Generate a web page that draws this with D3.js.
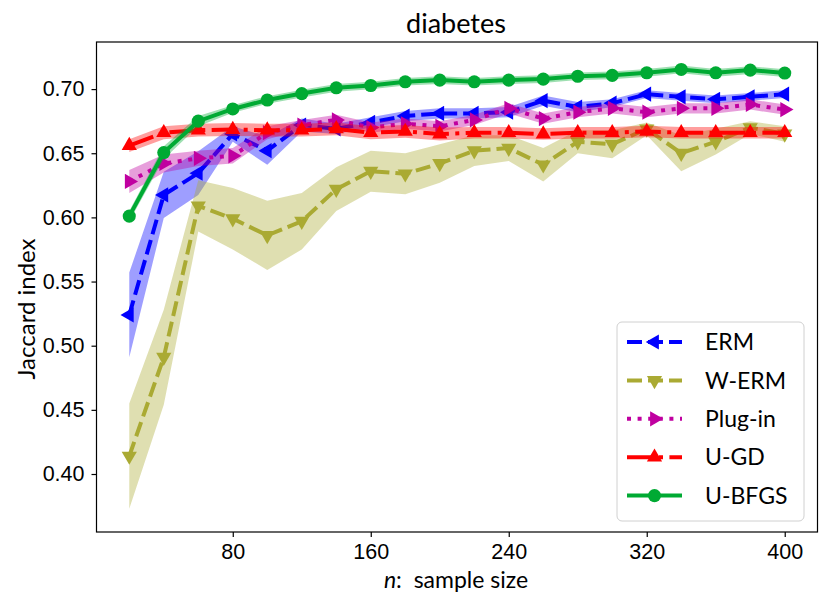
<!DOCTYPE html>
<html>
<head>
<meta charset="utf-8">
<script src="https://cdn.jsdelivr.net/npm/d3@7"></script>
<style>
  body { margin: 0; background: #fff; }
  svg { font-family: "Lato", "DejaVu Sans", sans-serif; }
</style>
</head>
<body>
<svg id="chart" width="831" height="607"></svg>
<script>
// Data
const sampleSizes = [20, 40, 60, 80, 100, 120, 140, 160, 180, 200, 220, 240, 260, 280, 300, 320, 340, 360, 380, 400];

const ermMean = [0.524, 0.6175, 0.6345, 0.665, 0.652, 0.672, 0.669, 0.674, 0.679, 0.681, 0.681, 0.682, 0.691, 0.686, 0.689, 0.696, 0.694, 0.692, 0.694, 0.696];
const ermStd  = [0.033, 0.018, 0.017, 0.006, 0.011, 0.005, 0.004, 0.004, 0.004, 0.004, 0.004, 0.004, 0.004, 0.004, 0.003, 0.003, 0.003, 0.003, 0.003, 0.003];

const wermMean = [0.414, 0.491, 0.609, 0.599, 0.586, 0.597, 0.622, 0.636, 0.634, 0.642, 0.652, 0.654, 0.641, 0.659, 0.657, 0.669, 0.650, 0.659, 0.670, 0.665];
const wermStd  = [0.041, 0.037, 0.020, 0.024, 0.027, 0.022, 0.017, 0.016, 0.016, 0.015, 0.012, 0.010, 0.013, 0.009, 0.011, 0.005, 0.014, 0.010, 0.005, 0.006];

const plugMean = [0.628, 0.642, 0.646, 0.648, 0.666, 0.672, 0.676, 0.670, 0.673, 0.671, 0.676, 0.685, 0.677, 0.682, 0.685, 0.682, 0.685, 0.685, 0.688, 0.684];
const plugStd  = [0.009, 0.007, 0.006, 0.006, 0.005, 0.004, 0.004, 0.004, 0.004, 0.004, 0.004, 0.004, 0.004, 0.004, 0.004, 0.004, 0.004, 0.004, 0.004, 0.004];

const ugdMean = [0.656, 0.666, 0.668, 0.6685, 0.668, 0.668, 0.669, 0.666, 0.667, 0.665, 0.666, 0.666, 0.665, 0.666, 0.666, 0.667, 0.666, 0.666, 0.666, 0.666];
const ugdStd  = [0.005, 0.005, 0.005, 0.005, 0.005, 0.005, 0.005, 0.005, 0.005, 0.005, 0.0045, 0.0045, 0.0045, 0.0045, 0.0045, 0.0045, 0.0045, 0.0045, 0.0045, 0.0045];

const bfgsMean = [0.601, 0.6505, 0.675, 0.6845, 0.6915, 0.6965, 0.701, 0.7028, 0.7057, 0.707, 0.7057, 0.707, 0.7078, 0.710, 0.7107, 0.7127, 0.7153, 0.7127, 0.7148, 0.7125];
const bfgsStd  = [0.004, 0.005, 0.004, 0.003, 0.003, 0.003, 0.003, 0.003, 0.003, 0.003, 0.003, 0.003, 0.003, 0.003, 0.003, 0.003, 0.003, 0.003, 0.003, 0.003];

const xTicks = [80, 160, 240, 320, 400];
const yTicks = [0.40, 0.45, 0.50, 0.55, 0.60, 0.65, 0.70];

const methods = [
  { name: "ERM",     mean: ermMean,  std: ermStd,  color: "#0000ff", dash: "15,6",           marker: "left" },
  { name: "W-ERM",   mean: wermMean, std: wermStd, color: "#aaaa33", dash: "15,6",           marker: "down" },
  { name: "Plug-in", mean: plugMean, std: plugStd, color: "#c000a0", dash: "4,6.6",          marker: "right" },
  { name: "U-GD",    mean: ugdMean,  std: ugdStd,  color: "#ff0000", dash: "25.6,6.4,4,6.4", marker: "up" },
  { name: "U-BFGS",  mean: bfgsMean, std: bfgsStd, color: "#00aa33", dash: null,             marker: "circle" }
];

// Layout
const plot = { left: 96.5, right: 817.5, top: 42, bottom: 532 };

const svg = d3.select("#chart");

const xScale = d3.scaleLinear().domain([1, 419]).range([plot.left, plot.right]);
const yScale = d3.scaleLinear().domain([0.3548, 0.7367]).range([plot.bottom, plot.top]);

// Marker shapes
const rot = { up: 0, right: 90, down: 180, left: -90 };
function markerPath(kind) {
  if (kind === "circle") return d3.symbol().type(d3.symbolCircle).size(135)();
  return d3.symbol().type(d3.symbolTriangle).size(100)();
}
function markerTransform(kind, x, y) {
  if (kind === "circle") return `translate(${x},${y})`;
  return `translate(${x},${y}) rotate(${rot[kind]})`;
}

// Clip to axes
svg.append("defs").append("clipPath").attr("id", "clip")
  .append("rect")
    .attr("x", plot.left).attr("y", plot.top)
    .attr("width", plot.right - plot.left).attr("height", plot.bottom - plot.top);

const body = svg.append("g").attr("clip-path", "url(#clip)");

methods.forEach(m => {
  const pts = sampleSizes.map((n, i) => ({ n, mean: m.mean[i], std: m.std[i] }));

  const area = d3.area()
      .x(d => xScale(d.n))
      .y0(d => yScale(d.mean - d.std))
      .y1(d => yScale(d.mean + d.std));

  body.append("path")
      .datum(pts)
      .attr("d", area)
      .attr("fill", m.color)
      .attr("fill-opacity", 0.38);

  const line = d3.line().x(d => xScale(d.n)).y(d => yScale(d.mean));

  body.append("path")
      .datum(pts)
      .attr("d", line)
      .attr("fill", "none")
      .attr("stroke", m.color)
      .attr("stroke-width", 4)
      .attr("stroke-dasharray", m.dash)
      .attr("stroke-linecap", "butt");

  body.selectAll(null)
      .data(pts)
    .enter().append("path")
      .attr("d", markerPath(m.marker))
      .attr("transform", d => markerTransform(m.marker, xScale(d.n), yScale(d.mean)))
      .attr("fill", m.color);
});

// Axes
const xAxis = d3.axisBottom(xScale).tickValues(xTicks).tickSize(5).tickPadding(7);
const yAxis = d3.axisLeft(yScale).tickValues(yTicks).tickSize(5).tickPadding(7).tickFormat(d3.format(".2f"));

const xAxisGroup = svg.append("g")
    .attr("transform", `translate(0,${plot.bottom})`)
    .call(xAxis);
const yAxisGroup = svg.append("g")
    .attr("transform", `translate(${plot.left},0)`)
    .call(yAxis);

[xAxisGroup, yAxisGroup].forEach(g => {
  g.select(".domain").remove();
  g.selectAll(".tick line").attr("stroke", "#000").attr("stroke-width", 1.2);
  g.selectAll(".tick text").attr("fill", "#000").style("font-size", "21.5px");
});

// Frame
svg.append("rect")
    .attr("x", plot.left).attr("y", plot.top)
    .attr("width", plot.right - plot.left).attr("height", plot.bottom - plot.top)
    .attr("fill", "none")
    .attr("stroke", "#000")
    .attr("stroke-width", 1.2);

// Title and labels
svg.append("text")
    .attr("x", 456)
    .attr("y", 33)
    .attr("text-anchor", "middle")
    .style("font-size", "27px")
    .text("diabetes");

const xLabel = svg.append("text")
    .attr("x", 456)
    .attr("y", 588)
    .attr("text-anchor", "middle")
    .style("font-size", "23px");
xLabel.append("tspan").style("font-style", "italic").text("n");
xLabel.append("tspan").text(":\u00a0 sample size");

svg.append("text")
    .attr("transform", `translate(35,${(plot.top + plot.bottom) / 2 + 22}) rotate(-90)`)
    .attr("text-anchor", "middle")
    .style("font-size", "24px")
    .text("Jaccard index");

// Legend
const legend = svg.append("g");
legend.append("rect")
    .attr("x", 617).attr("y", 322)
    .attr("width", 187).attr("height", 199)
    .attr("rx", 5)
    .attr("fill", "#fff")
    .attr("fill-opacity", 0.8)
    .attr("stroke", "#d0d0d0")
    .attr("stroke-width", 1);

methods.forEach((m, i) => {
  const y = 342 + i * 38.4;
  legend.append("line")
      .attr("x1", 627).attr("x2", 682)
      .attr("y1", y).attr("y2", y)
      .attr("stroke", m.color)
      .attr("stroke-width", 4)
      .attr("stroke-dasharray", m.dash);
  legend.append("path")
      .attr("d", markerPath(m.marker))
      .attr("transform", markerTransform(m.marker, 654.5, y))
      .attr("fill", m.color);
  legend.append("text")
      .attr("x", 705)
      .attr("y", y)
      .attr("dy", "0.36em")
      .style("font-size", "23px")
      .text(m.name);
});
</script>
</body>
</html>
